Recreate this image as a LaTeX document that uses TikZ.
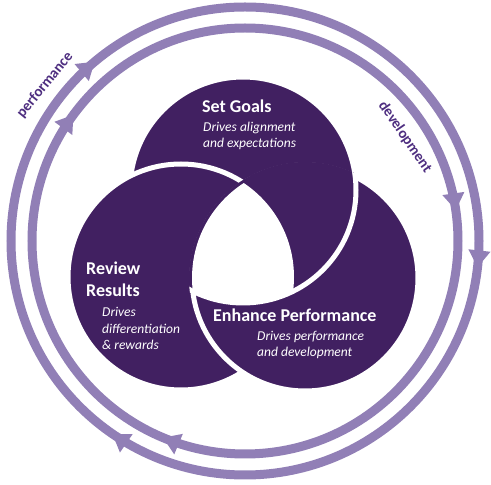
\documentclass[tikz,border=0pt]{standalone}
\usepackage{fontspec}
\setmainfont{Carlito}
\usetikzlibrary{arrows.meta,decorations.markings}
\definecolor{petal}{RGB}{65,32,97}
\definecolor{loop}{RGB}{145,127,182}
\definecolor{tagpurple}{RGB}{78,46,128}
\tikzset{
    petal/.style={fill=petal, draw=white, line width=5pt}, % purple disc with a white rim
    ring/.style={draw, color=loop, line width=9pt}, % the two loops round the discs
    flowtip/.tip={Triangle[length=17pt,width=21pt]},
    title/.style={text=white, font=\bfseries\fontsize{18}{22}\selectfont, align=left, anchor=base west, inner sep=0pt},
    blurb/.style={text=white, font=\itshape\fontsize{13.5}{16.5}\selectfont, align=left, anchor=base west, inner sep=0pt},
    tag/.style={text=tagpurple, font=\bfseries\fontsize{15}{18}\selectfont, inner sep=0pt}
}

\begin{document}
\begin{tikzpicture}[x=1pt, y=1pt]
    \useasboundingbox (0,0) rectangle (491,485);

    % centres
    \coordinate (goals) at (243,295);
    \coordinate (review) at (181,208);
    \coordinate (enhance) at (305,207);
    \coordinate (hub) at (245,244);

    % loops, both running clockwise
    \draw[ring, postaction={decorate}, decoration={markings,
            mark=at position 0.018 with {\arrow{flowtip}},
            mark=at position 0.346 with {\arrow{flowtip}},
            mark=at position 0.639 with {\arrow{flowtip}}}]
        (hub) ++(0:234) arc[start angle=0, end angle=-360, radius=234];
    \draw[ring, postaction={decorate}, decoration={markings,
            mark=at position 0.313 with {\arrow{flowtip}},
            mark=at position 0.601 with {\arrow{flowtip}},
            mark=at position 0.977 with {\arrow{flowtip}}}]
        (hub) ++(0:213) arc[start angle=0, end angle=-360, radius=213];

    % discs: review over goals, enhance over review, goals over enhance
    \draw[petal] (goals) circle (113);
    \draw[petal] (review) circle (113);
    \draw[petal] (enhance) circle (113);
    \begin{scope}
        \clip (enhance) circle (116);
        \draw[petal] (goals) circle (113);
    \end{scope}
    % white core where all three meet
    \begin{scope}
        \clip (goals) circle (113);
        \clip (review) circle (113);
        \fill[white] (enhance) circle (113);
    \end{scope}

    % texts (multi-line nodes sit on their last line)
    \node[title] (goalstitle) at (202,372) {Set Goals};
    \node[blurb] (goalsblurb) at (203,337) {Drives alignment\\and expectations};
    \node[title] (reviewtitle) at (86,188) {Review\\Results};
    \node[blurb] (reviewblurb) at (102,135) {Drives\\differentiation\\\& rewards};
    \node[title] (enhancetitle) at (213,163) {Enhance Performance};
    \node[blurb] (enhanceblurb) at (257,128) {Drives performance\\and development};

    \node[tag, rotate=51] (perf) at (45,400) {performance};
    \node[tag, rotate=-55.5] (dev) at (405,348) {development};
\end{tikzpicture}
\end{document}
